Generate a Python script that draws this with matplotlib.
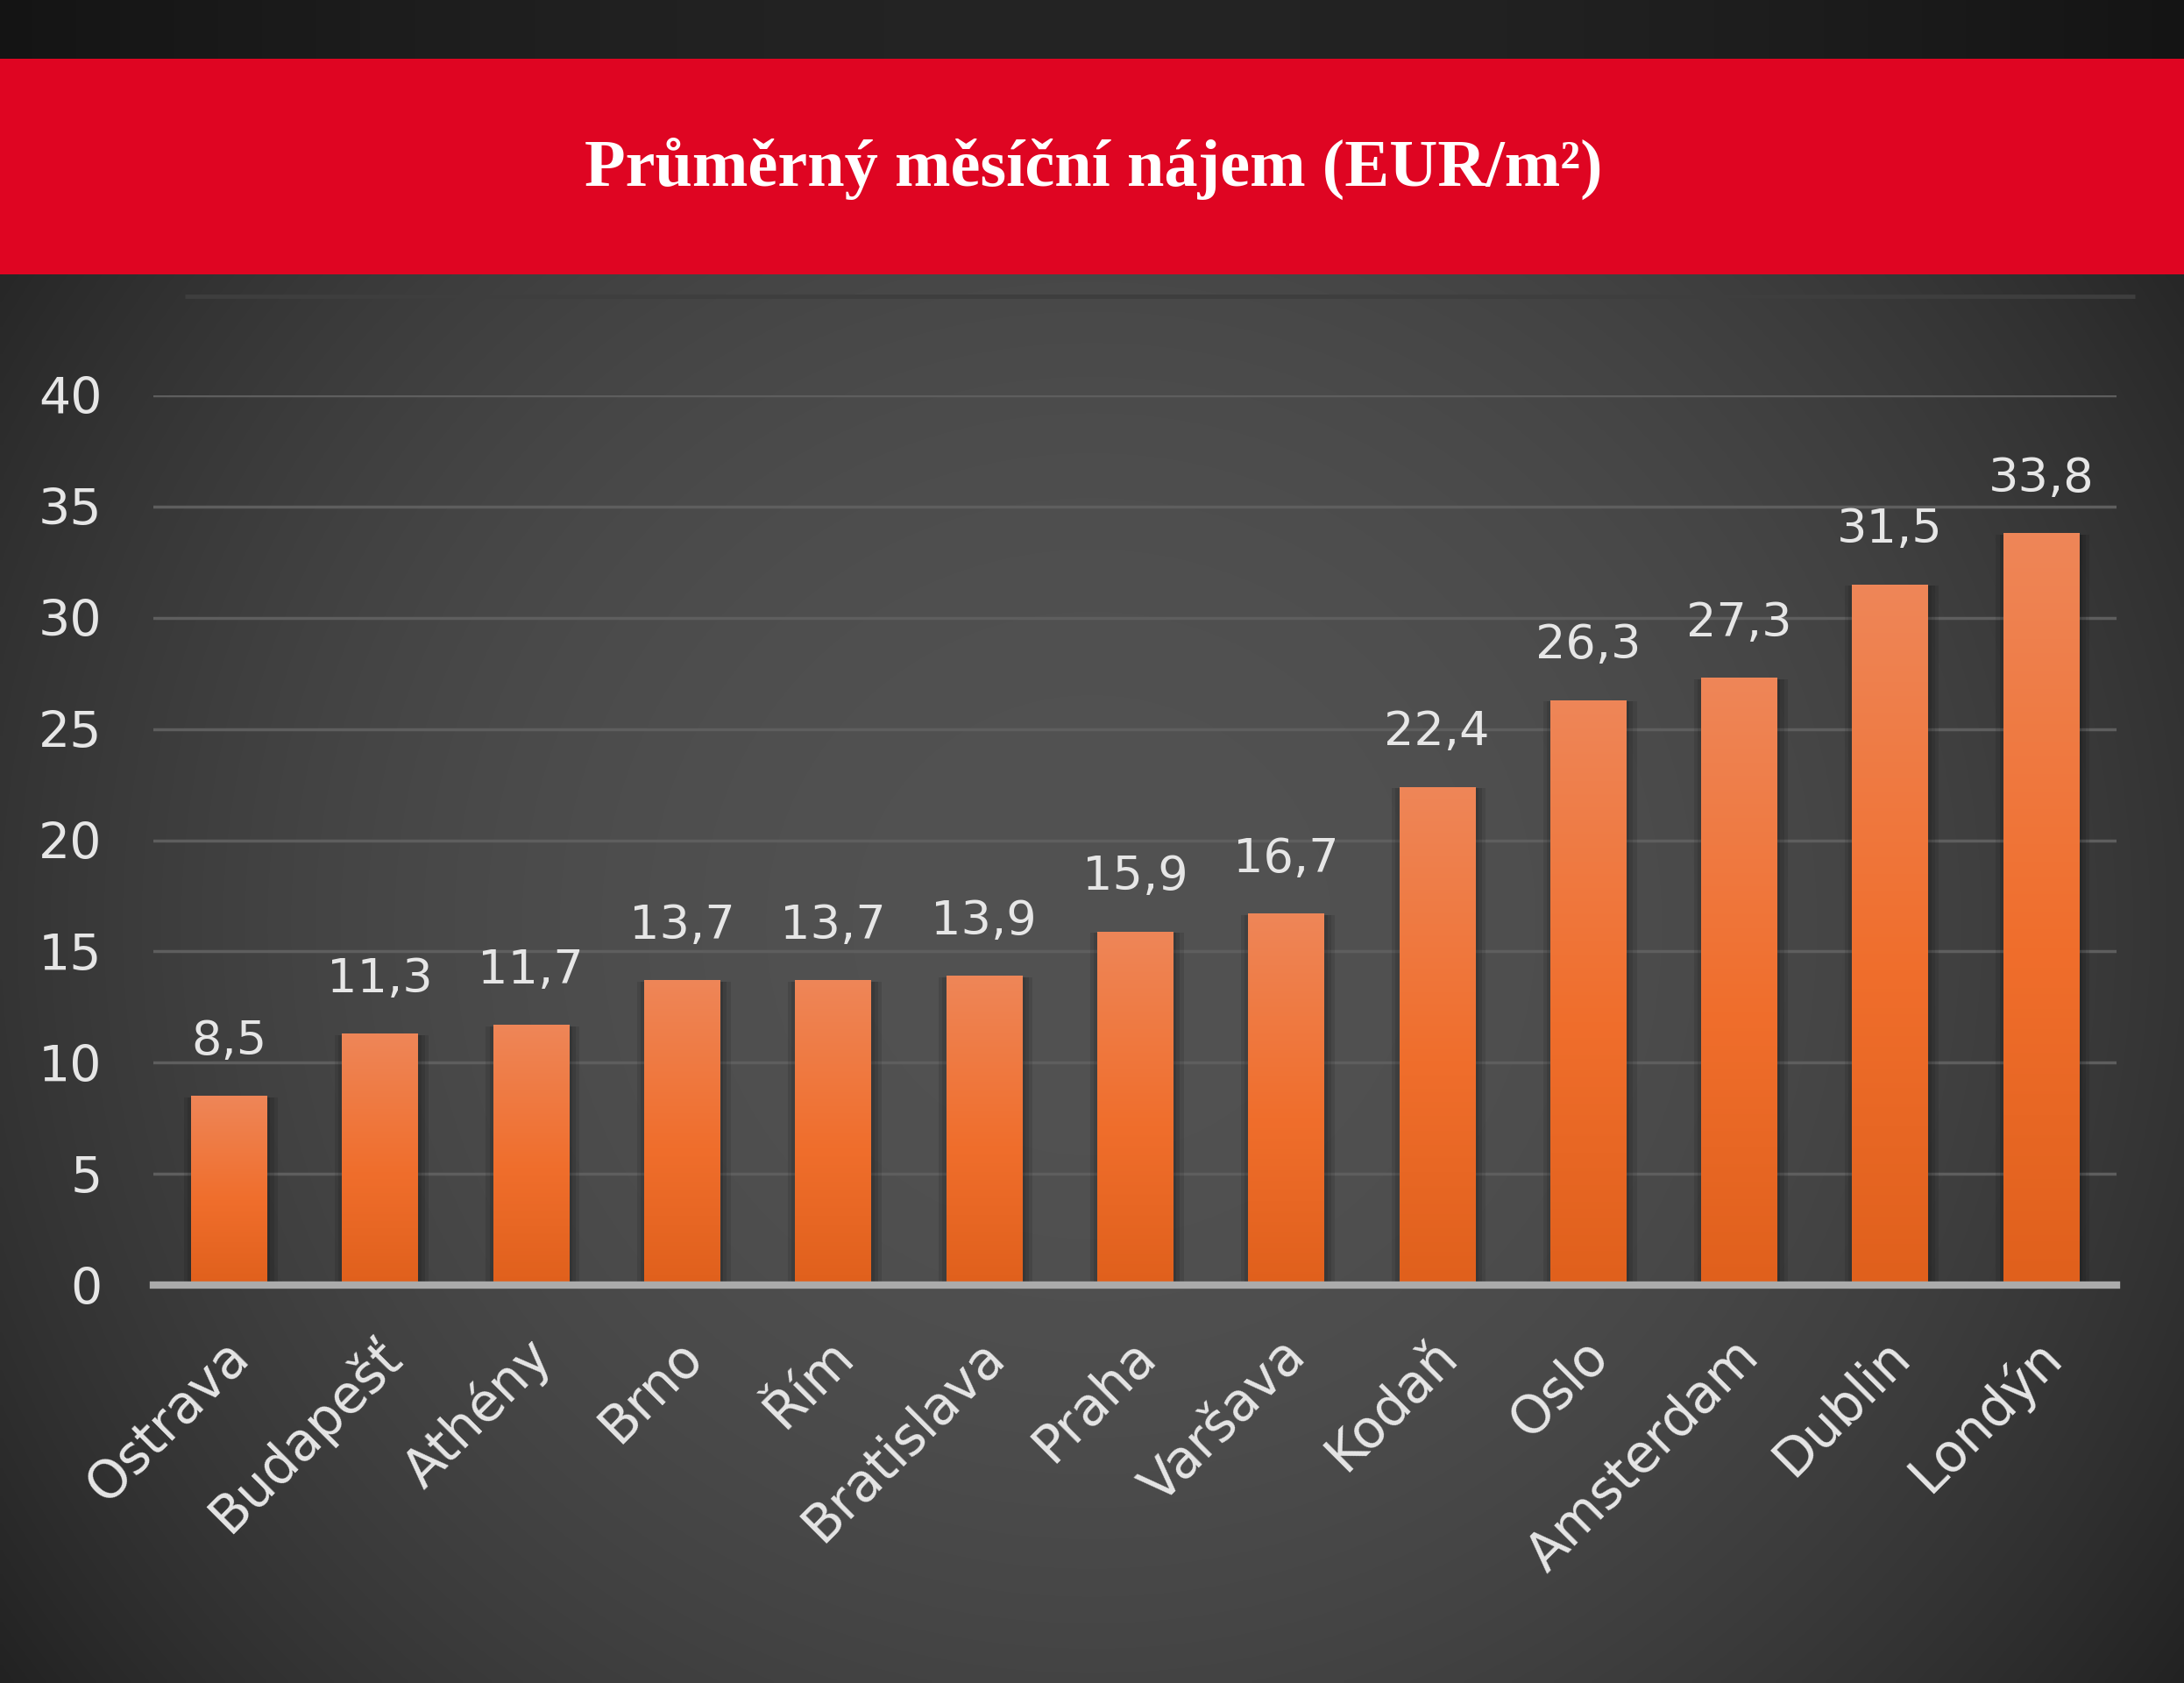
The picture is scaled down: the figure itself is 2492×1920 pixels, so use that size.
import numpy as np
import matplotlib
matplotlib.use("Agg")
import matplotlib.pyplot as plt
from matplotlib.patches import Rectangle
from matplotlib.colors import LinearSegmentedColormap
from matplotlib.transforms import ScaledTranslation
import matplotlib.patheffects as pe

# ---- data ----
cities = ["Ostrava", "Budapešť", "Athény", "Brno", "Řím", "Bratislava", "Praha",
          "Varšava", "Kodaň", "Oslo", "Amsterdam", "Dublin", "Londýn"]
rent = [8.5, 11.3, 11.7, 13.7, 13.7, 13.9, 15.9, 16.7, 22.4, 26.3, 27.3, 31.5, 33.8]
yticks = [0, 5, 10, 15, 20, 25, 30, 35, 40]
title = "Průměrný měsíční nájem (EUR/m²)"

W, H, DPI = 2492, 1920, 100
FONT = "DejaVu Sans"
fig = plt.figure(figsize=(W / DPI, H / DPI), dpi=DPI)

# ---- background (radial vignette) ----
bg = fig.add_axes([0, 0, 1, 1], zorder=0)
bg.set_axis_off()
yy, xx = np.mgrid[0:1:400j, 0:1:520j]
r = np.sqrt(((xx - 0.5) / 0.6) ** 2 + ((yy - 0.55) / 0.75) ** 2)
r = np.clip(r, 0, 1.05)
val = (82 - 45 * r ** 2.24) / 255.0
img = np.dstack([val, val, val])
bg.imshow(img, extent=[0, 1, 0, 1], origin="upper", aspect="auto", interpolation="bilinear")

# top dark band
t = np.linspace(0, 1, 200)
bv = 0.08 + 0.06 * np.sin(np.pi * t)
band = np.zeros((2, 200, 3))
band[:, :, :] = bv[None, :, None]
bg.imshow(band, extent=[0, 1, 1 - 67 / H, 1], aspect="auto", zorder=1)
# red title band
bg.add_patch(Rectangle((0, 1 - 313 / H), 1, (313 - 67) / H, facecolor="#df0522",
                       edgecolor="none", zorder=2))
# faint separator line
bg.plot([211 / W, 2436 / W], [1 - 338 / H, 1 - 338 / H], color="#3e3e3e", lw=3.5,
        solid_capstyle="butt", zorder=2)
bg.set_xlim(0, 1)
bg.set_ylim(0, 1)

fig.text(0.5008, 1 - 212 / H, title, ha="center", va="baseline", color="white",
         fontsize=55, fontweight="bold", family="Liberation Serif")

# ---- main chart ----
left, right = 175 / W, 2415 / W
bottom, top = 1 - 1466 / H, 1 - 451 / H
ax = fig.add_axes([left, bottom, right - left, top - bottom], zorder=1)
ax.patch.set_alpha(0)

x = np.arange(len(cities))
shadow = [pe.SimplePatchShadow(offset=(d, -1), shadow_rgbFace="black", alpha=0.10)
          for d in (9, 6, 3, -3, -6)]
bars = ax.bar(x, rent, width=0.5, color="#f07030", zorder=3,
              path_effects=shadow + [pe.Normal()])

bar_cmap = LinearSegmentedColormap.from_list(
    "barg", [(0.0, "#e0601c"), (0.45, "#f06e2c"), (1.0, "#ee8658")])
grad = np.linspace(1, 0, 256)[:, None]
for b in bars:
    bx, bw, bh = b.get_x(), b.get_width(), b.get_height()
    im = ax.imshow(grad, cmap=bar_cmap, vmin=0, vmax=1, aspect="auto",
                   extent=[bx, bx + bw, 0, bh], origin="upper", zorder=4)
    im.set_clip_path(b)

for xi, v in zip(x, rent):
    ax.annotate(f"{v:.1f}".replace(".", ","), xy=(xi, v), xytext=(0, 34),
                textcoords="offset points", ha="center", va="baseline",
                color="#e6e6e6", fontsize=39, family=FONT, zorder=6)

ax.set_xlim(-0.5, len(cities) - 0.5)
ax.set_ylim(0, 40)
ax.set_yticks(yticks)
ax.set_yticklabels([str(t) for t in yticks])
ax.yaxis.grid(True, color="#5e5e5e", lw=2.5, zorder=1)
ax.set_axisbelow(True)
for s in ax.spines.values():
    s.set_visible(False)
ax.axhline(0, color="#ababab", lw=6, zorder=5, clip_on=False)

ax.tick_params(axis="y", length=0, pad=42, labelsize=41, labelcolor="#e6e6e6")
ax.tick_params(axis="x", length=0, pad=52, labelsize=43, labelcolor="#e6e6e6")
ax.set_xticks(x)
ax.set_xticklabels(cities, rotation=45, ha="right", va="center", rotation_mode="anchor")
off = ScaledTranslation(14 / DPI, 0, fig.dpi_scale_trans)
for lab in ax.get_xticklabels() + ax.get_yticklabels():
    lab.set_family(FONT)
for lab in ax.get_xticklabels():
    lab.set_transform(lab.get_transform() + off)

fig.savefig("out.png", dpi=DPI)
